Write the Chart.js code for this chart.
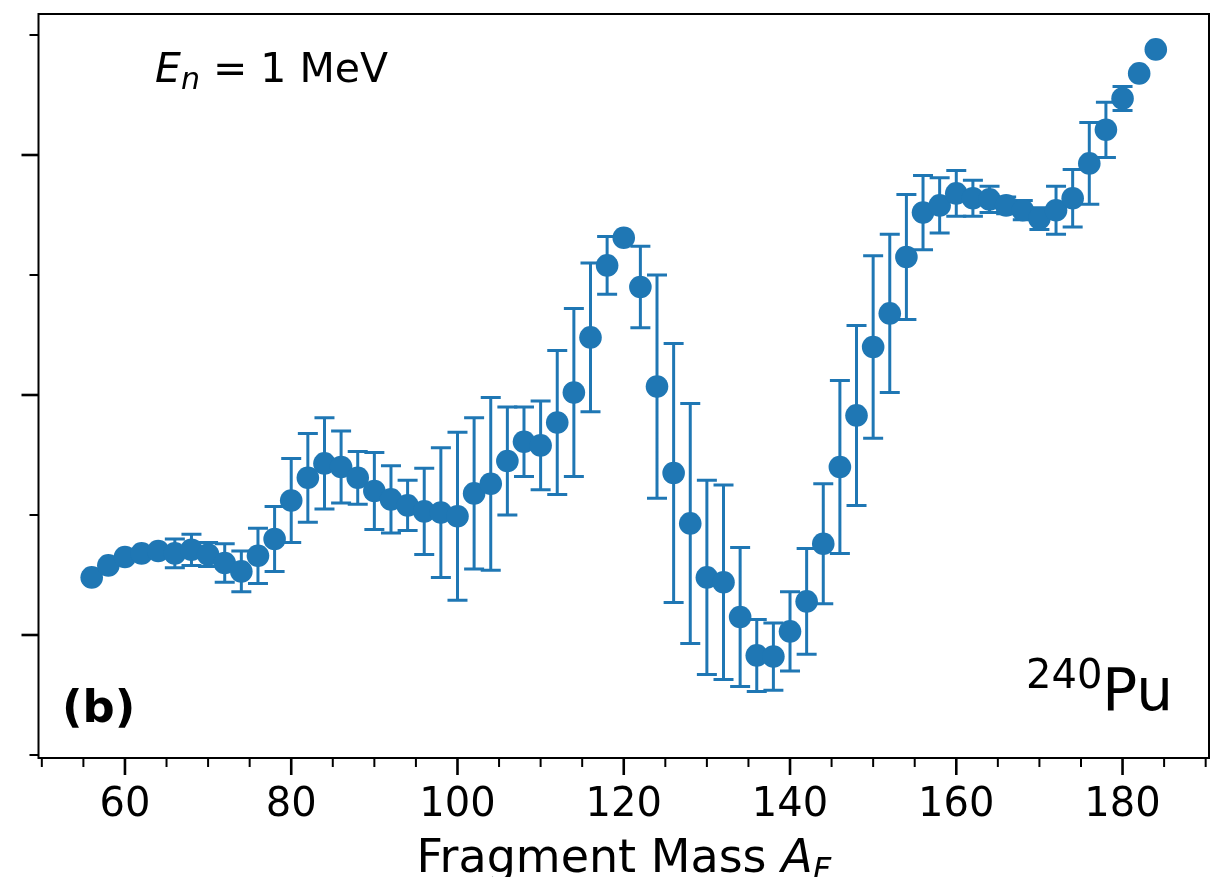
<!DOCTYPE html>
<html>
<head>
    <title>240Pu fragment mass</title>
    <script src="https://cdn.jsdelivr.net/npm/chart.js"></script>
    <style>
        body { margin: 0; background: #fff; overflow: hidden; }
        canvas { display: block; }
    </style>
</head>
<body>
    <canvas id="massChart" width="1217" height="877"></canvas>

    <script type="text/javascript">
        // fragment mass A_F
        var fragmentMass = [56, 58, 60, 62, 64, 66, 68, 70, 72, 74, 76, 78, 80, 82, 84, 86, 88, 90, 92, 94,
            96, 98, 100, 102, 104, 106, 108, 110, 112, 114, 116, 118, 120, 122, 124, 126, 128, 130, 132, 134,
            136, 138, 140, 142, 144, 146, 148, 150, 152, 154, 156, 158, 160, 162, 164, 166, 168, 170, 172, 174,
            176, 178, 180, 182, 184];
        // values (y axis has no labels, arbitrary units)
        var meanValue = [1.48, 1.58, 1.65, 1.68, 1.70, 1.68, 1.71, 1.67, 1.60, 1.53, 1.66, 1.80, 2.12, 2.31, 2.43, 2.40, 2.31, 2.20, 2.13, 2.08,
            2.03, 2.02, 1.99, 2.18, 2.26, 2.45, 2.61, 2.58, 2.77, 3.02, 3.48, 4.08, 4.31, 3.90, 3.07, 2.35, 1.93, 1.48, 1.44, 1.15,
            0.83, 0.82, 1.03, 1.28, 1.76, 2.40, 2.83, 3.40, 3.68, 4.15, 4.52, 4.58, 4.68, 4.64, 4.63, 4.58, 4.54, 4.47, 4.54, 4.64,
            4.93, 5.21, 5.47, 5.68, 5.88];
        var errValue = [0, 0, 0.02, 0.02, 0.03, 0.12, 0.13, 0.10, 0.16, 0.17, 0.23, 0.27, 0.35, 0.37, 0.38, 0.30, 0.22, 0.32, 0.28, 0.21,
            0.36, 0.54, 0.70, 0.63, 0.72, 0.45, 0.29, 0.37, 0.60, 0.70, 0.62, 0.24, 0.01, 0.34, 0.93, 1.08, 1.00, 0.81, 0.81, 0.58,
            0.30, 0.28, 0.33, 0.44, 0.50, 0.72, 0.75, 0.76, 0.66, 0.52, 0.31, 0.23, 0.19, 0.15, 0.11, 0.07, 0.08, 0.09, 0.20, 0.24,
            0.34, 0.23, 0.10, 0.02, 0];
        var xTickLabels = [60, 80, 100, 120, 140, 160, 180];

        var blue = '#1f77b4';
        Chart.defaults.font.family = '"DejaVu Sans", sans-serif';

        var points = [], stems = [], caps = [];
        for (var i = 0; i < fragmentMass.length; i++) {
            var a = fragmentMass[i], v = meanValue[i], e = errValue[i];
            points.push({x: a, y: v});
            stems.push({x: a, y: v - e}, {x: a, y: v + e}, {x: a, y: null});
            caps.push({x: a, y: v - e}, {x: a, y: v + e});
        }

        // draws a row of text pieces with their own fonts
        function drawRuns(ctx, x, y, runs, align) {
            var total = 0;
            runs.forEach(function (r) { ctx.font = r.font; total += ctx.measureText(r.text).width; });
            if (align === 'center') x -= total / 2;
            runs.forEach(function (r) {
                ctx.font = r.font;
                ctx.fillText(r.text, x, y + (r.dy || 0));
                x += ctx.measureText(r.text).width;
            });
        }

        var framePlugin = {
            id: 'frame',
            afterDraw: function (chart) {
                var ctx = chart.ctx, area = chart.chartArea;
                var xs = chart.scales.x, ys = chart.scales.y;
                ctx.save();
                ctx.strokeStyle = '#000';
                ctx.lineWidth = 2;
                ctx.strokeRect(area.left, area.top, area.right - area.left, area.bottom - area.top);

                // x ticks every 5, long ones on the labels
                for (var t = 50; t <= 190; t += 5) {
                    var px = xs.getPixelForValue(t);
                    var major = xTickLabels.indexOf(t) >= 0;
                    ctx.lineWidth = major ? 2.6 : 2;
                    ctx.beginPath();
                    ctx.moveTo(px, area.bottom);
                    ctx.lineTo(px, area.bottom + (major ? 17 : 9));
                    ctx.stroke();
                }
                // y ticks, no labels
                for (var k = 0; k <= 6; k++) {
                    var py = ys.getPixelForValue(k);
                    var ymajor = k % 2 === 1;
                    ctx.lineWidth = ymajor ? 2.6 : 2;
                    ctx.beginPath();
                    ctx.moveTo(area.left, py);
                    ctx.lineTo(area.left - (ymajor ? 17 : 9), py);
                    ctx.stroke();
                }

                ctx.fillStyle = '#000';
                ctx.textBaseline = 'alphabetic';
                ctx.textAlign = 'left';
                var f = '"DejaVu Sans"';
                drawRuns(ctx, 155, 82, [
                    {text: 'E', font: 'italic 41px ' + f},
                    {text: 'n', font: 'italic 30px ' + f, dy: 7},
                    {text: ' = 1 MeV', font: '41px ' + f}
                ]);
                drawRuns(ctx, 62, 722, [{text: '(b)', font: 'bold 45px ' + f}]);
                drawRuns(ctx, 1026, 710, [
                    {text: '240', font: '40px ' + f, dy: -22},
                    {text: 'Pu', font: '58px ' + f}
                ]);
                drawRuns(ctx, (area.left + area.right) / 2, 872, [
                    {text: 'Fragment Mass ', font: '46px ' + f},
                    {text: 'A', font: 'italic 46px ' + f},
                    {text: 'F', font: 'italic 32px ' + f, dy: 8}
                ], 'center');
                ctx.restore();
            }
        };

        var massChart = new Chart(document.getElementById('massChart').getContext('2d'), {
            type: 'scatter',
            data: {
                datasets: [{
                    data: points,
                    pointRadius: 11.3,
                    pointHoverRadius: 11.3,
                    backgroundColor: blue,
                    borderWidth: 0,
                    order: 0
                }, {
                    data: stems,
                    showLine: true,
                    spanGaps: false,
                    pointRadius: 0,
                    borderColor: blue,
                    borderWidth: 3,
                    order: 1
                }, {
                    data: caps,
                    pointStyle: 'line',
                    pointRadius: 10,
                    borderColor: blue,
                    borderWidth: 3,
                    order: 2
                }]
            },
            options: {
                responsive: false,
                animation: false,
                events: [],
                layout: { autoPadding: false, padding: { top: 14, right: 8, left: 38.5, bottom: 0 } },
                plugins: { legend: { display: false }, tooltip: { enabled: false } },
                scales: {
                    x: {
                        type: 'linear',
                        min: 49.6,
                        max: 190.4,
                        afterBuildTicks: function (s) { s.ticks = xTickLabels.map(function (v) { return {value: v}; }); },
                        afterFit: function (s) { s.height = 119; s.paddingLeft = 0; s.paddingRight = 0; },
                        grid: { display: false, drawTicks: true, tickLength: 17 },
                        border: { display: false },
                        ticks: { color: '#000', font: { size: 40 }, padding: 7, maxRotation: 0, autoSkip: false }
                    },
                    y: {
                        display: false,
                        min: -0.025,
                        max: 6.175
                    }
                }
            },
            plugins: [framePlugin]
        });
    </script>
</body>
</html>
